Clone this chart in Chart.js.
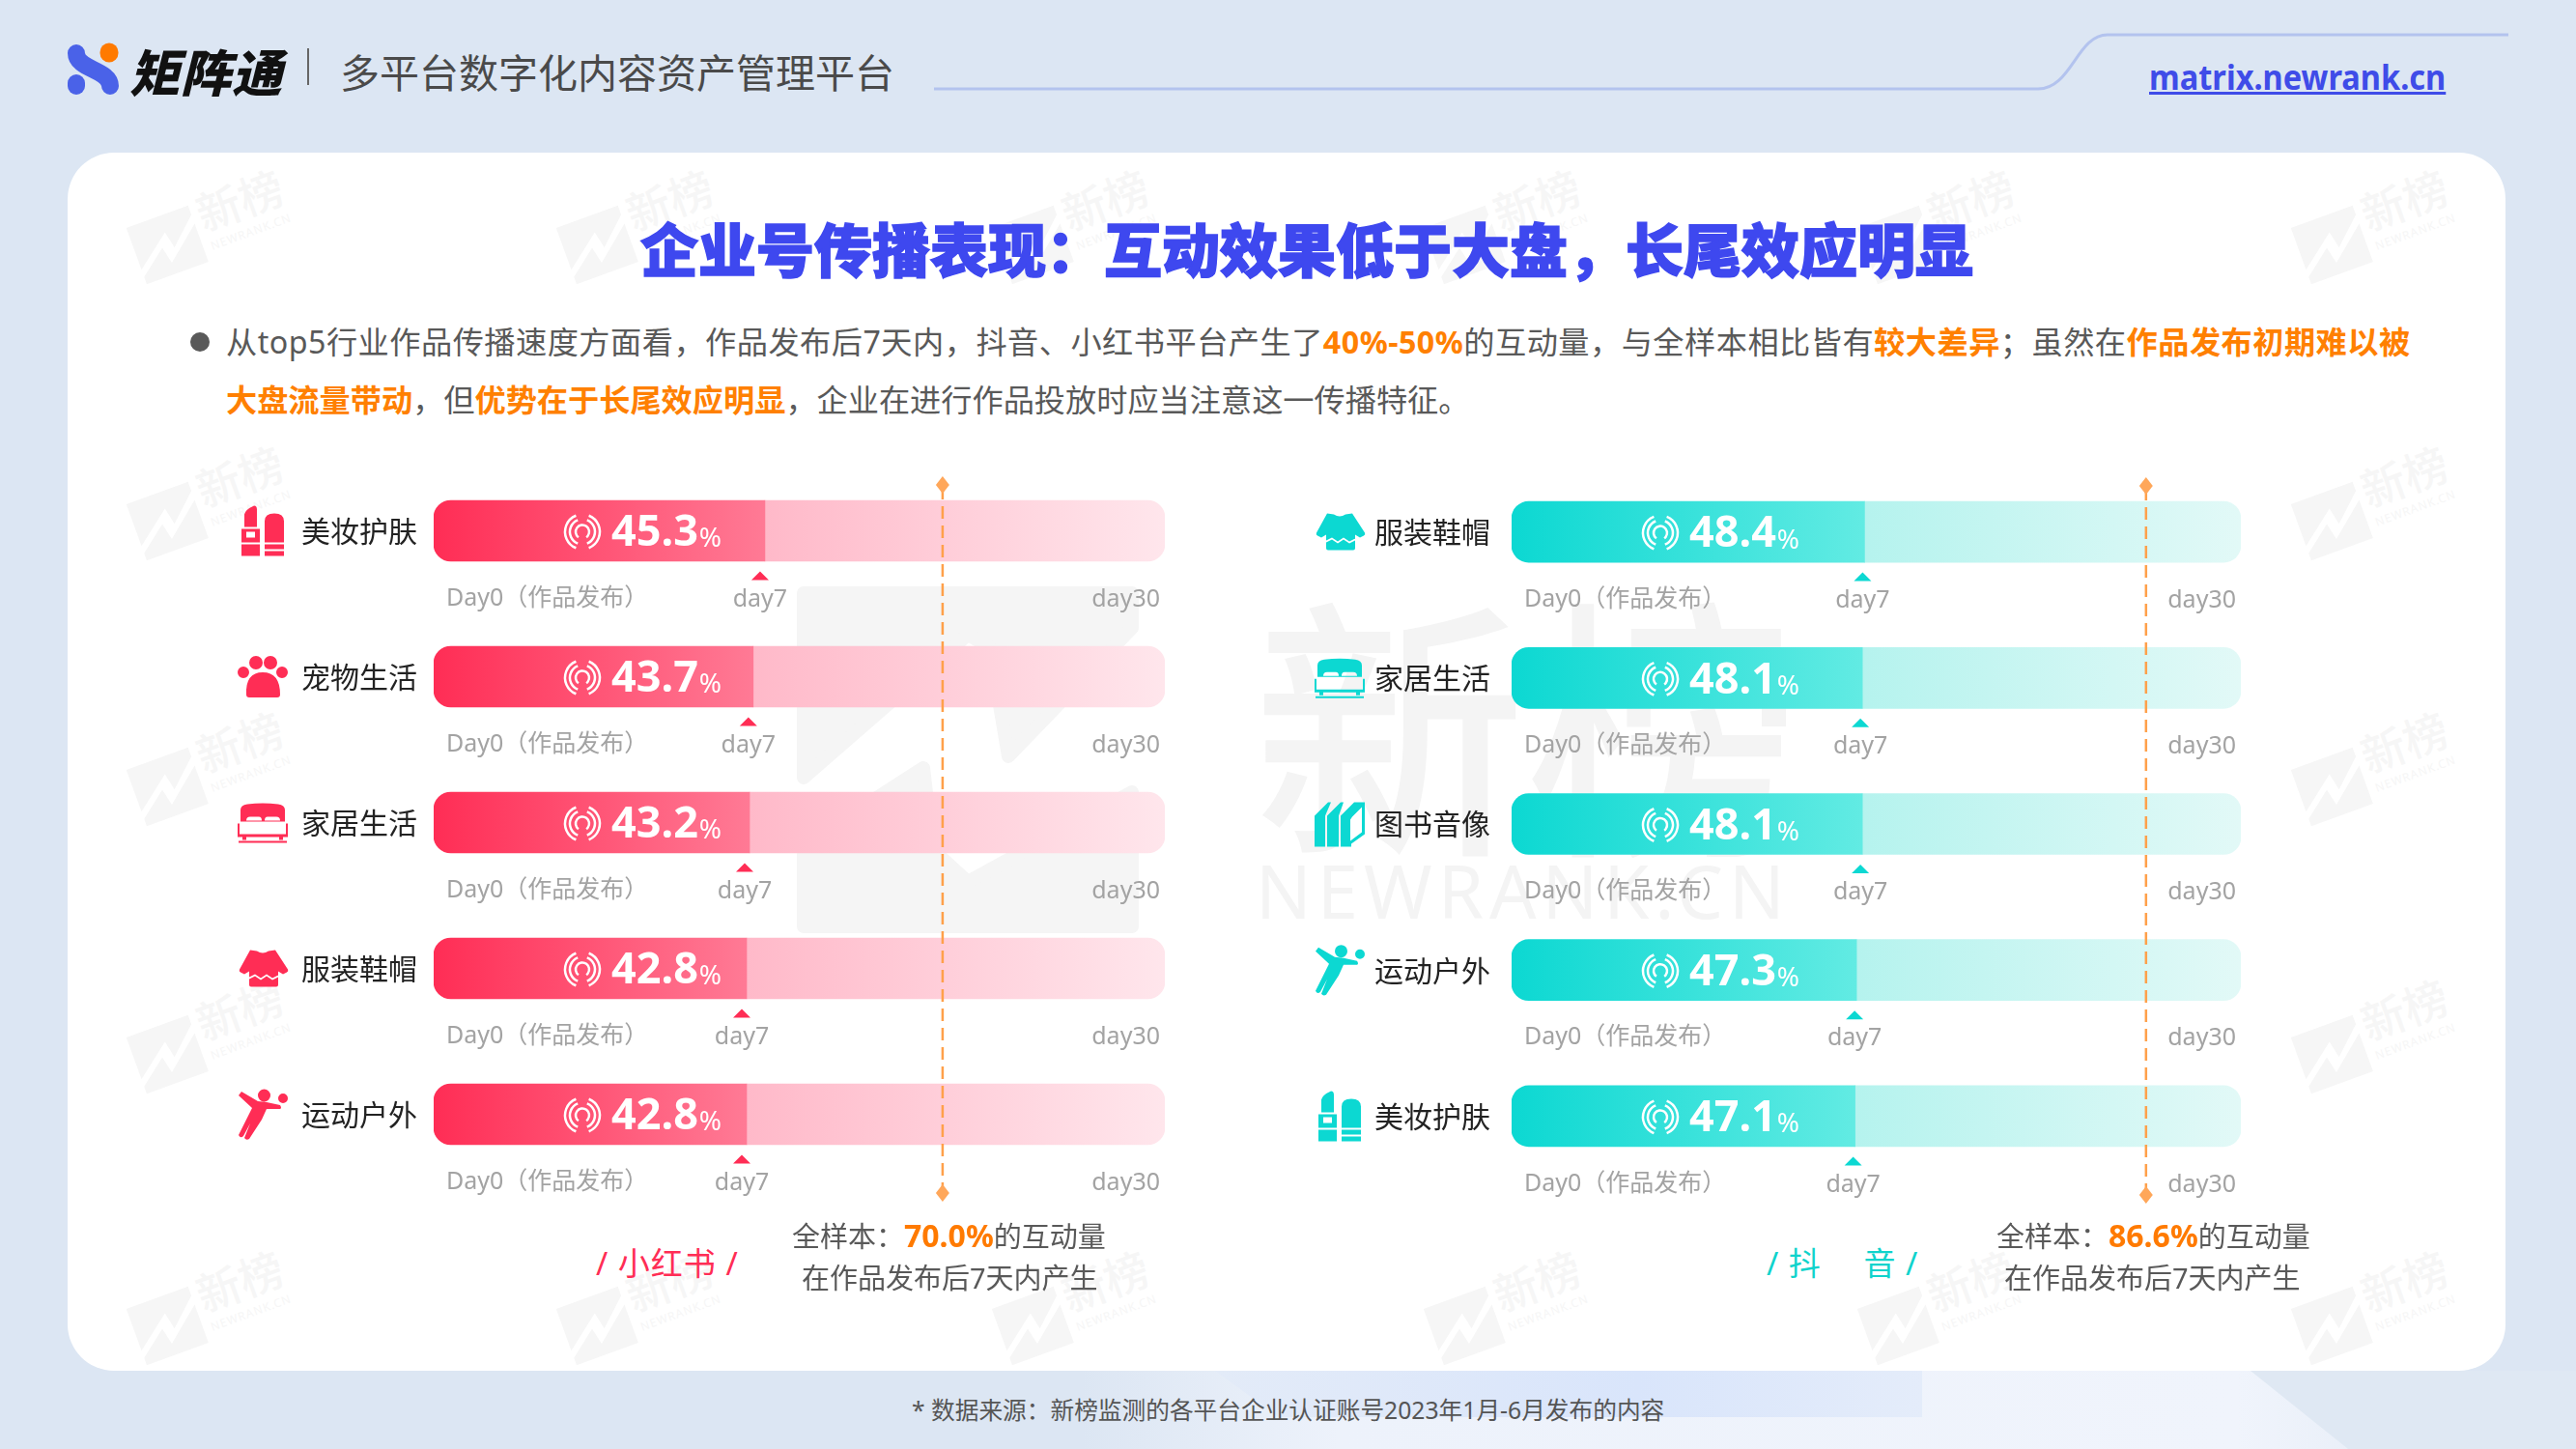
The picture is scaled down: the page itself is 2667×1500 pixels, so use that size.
<!DOCTYPE html>
<html lang="zh-CN">
<head>
<meta charset="utf-8">
<title>企业号传播表现</title>
<script src="https://cdn.jsdelivr.net/npm/chart.js@4"></script>
<style>
  * { margin: 0; padding: 0; box-sizing: border-box; }
  html, body { width: 2667px; height: 1500px; overflow: hidden; background: #dce6f3; }
  body { position: relative; font-family: "Noto Sans", "Noto Sans CJK SC", sans-serif; color: #595959; }
  .abs { position: absolute; white-space: nowrap; }
  .hi { color: #ff8000; font-weight: 700; }
  .card { position: absolute; left: 70px; top: 158px; width: 2524px; height: 1261px; background: #fff; border-radius: 48px; }
  canvas { position: absolute; }
</style>
</head>
<body>
<!-- 背景の薄い光 -->
<div class="abs" style="left:1120px;top:1419px;width:1330px;height:81px;background:linear-gradient(90deg,#dce6f3,#edf2fb 20%,#f0f4fc 90%,#e9eff8)"></div>
<div class="abs" style="left:1258px;top:1419px;width:732px;height:48px;background:linear-gradient(90deg,#e3ebf8,#d9e5fb 60%,#e4ecfa);clip-path:polygon(0 0,100% 0,100% 100%,9% 100%)"></div>
<div class="abs" style="left:2330px;top:1419px;width:337px;height:81px;background:#dfe8f3;clip-path:polygon(0 0,100% 0,100% 100%,30% 100%)"></div>

<!-- ヘッダー -->
<svg class="abs" style="left:66px;top:40px" width="62" height="62" viewBox="0 0 62 62">
  <path d="M13 15 C13 32 48 32 48 49" stroke="#4a62e8" stroke-width="18" stroke-linecap="round" fill="none"/>
  <path d="M13 46 V49" stroke="#4a62e8" stroke-width="18" stroke-linecap="round" fill="none"/>
  <path d="M47 14 V15" stroke="#ff7a00" stroke-width="19" stroke-linecap="round" fill="none"/>
</svg>
<div class="abs" style="left:134px;top:38px;font:italic 900 52px 'Noto Sans CJK SC';color:#111;letter-spacing:1px;line-height:70px">矩阵通</div>
<div class="abs" style="left:318px;top:50px;width:2px;height:38px;background:#666"></div>
<div class="abs" style="left:352px;top:44px;font:400 41px/58px 'Noto Sans CJK SC';color:#4a4a4a">多平台数字化内容资产管理平台</div>
<svg class="abs" style="left:960px;top:25px" width="1650" height="80" viewBox="0 0 1650 80">
  <path d="M7 67 H1150 C1185 67 1190 11 1222 11 H1637" stroke="#b3c3ee" stroke-width="3" fill="none"/>
</svg>
<div class="abs" style="left:2225px;top:56px;font:700 35px/48px 'Noto Sans';color:#3f4ce8;text-decoration:underline;transform:scaleX(.93);transform-origin:left">matrix.newrank.cn</div>

<div class="card"></div>
<div id="watermarks"></div>

<!-- 中央の大きな透かし -->
<svg class="abs" style="left:0;top:0" width="2667" height="1500" viewBox="0 0 2667 1500">
  <path d="M832 614H1172V650L1044 783L1025 670L1002 657L832 805Z M956 795L966 880L1002 913L1172 820V959H832V875Z" fill="#f5f5f5" stroke="#f5f5f5" stroke-width="14" stroke-linejoin="round"/>
</svg>
<div class="abs" style="left:1297px;top:556px;font:500 283px/370px 'Noto Sans CJK SC';color:#f4f4f4">新榜</div>
<div class="abs" style="left:1300px;top:870px;font:400 76px/104px 'Noto Sans';color:#f4f4f4;letter-spacing:6px">NEWRANK.CN</div>

<!-- タイトルと説明文 -->
<div class="abs" style="left:663px;top:213px;font:900 60px/86px 'Noto Sans CJK SC';color:#3e48ef;-webkit-text-stroke:1.5px #3e48ef">企业号传播表现：互动效果低于大盘，长尾效应明显</div>
<div class="abs" style="left:197px;top:344px;width:20px;height:20px;border-radius:50%;background:#595959"></div>
<div class="abs" style="left:234px;top:331px;font-size:32.2px;line-height:46px;letter-spacing:.49px">从top5行业作品传播速度方面看，作品发布后7天内，抖音、小红书平台产生了<span class="hi">40%-50%</span>的互动量，与全样本相比皆有<span class="hi">较大差异</span>；虽然在<span class="hi">作品发布初期难以被</span></div>
<div class="abs" style="left:234px;top:391px;font-size:32.2px;line-height:46px"><span class="hi">大盘流量带动</span>，但<span class="hi">优势在于长尾效应明显</span>，企业在进行作品投放时应当注意这一传播特征。</div>

<canvas id="xhsChart" width="1140" height="800" style="left:100px;top:460px"></canvas>
<canvas id="dyChart" width="1140" height="800" style="left:1240px;top:460px"></canvas>

<!-- 下部の注記 -->
<div class="abs" style="left:617px;top:1285px;font-size:33px;line-height:46px;letter-spacing:1px;color:#ff2d55">/ 小红书 /</div>
<div class="abs" style="left:1829px;top:1285px;font-size:33px;line-height:46px;letter-spacing:1px;color:#0fd3cc">/ 抖&emsp;&nbsp;音 /</div>
<div class="abs" style="left:820px;top:1258px;font-size:29px;line-height:42px">全样本：<span style="color:#ff7a00;font-weight:700;font-size:32px">70.0%</span>的互动量</div>
<div class="abs" style="left:830px;top:1302px;font-size:29px;line-height:42px">在作品发布后7天内产生</div>
<div class="abs" style="left:2067px;top:1258px;font-size:29px;line-height:42px">全样本：<span style="color:#ff7a00;font-weight:700;font-size:32px">86.6%</span>的互动量</div>
<div class="abs" style="left:2075px;top:1302px;font-size:29px;line-height:42px">在作品发布后7天内产生</div>
<div class="abs" style="left:944px;top:1442px;font-size:24.7px;line-height:36px;color:#555">* 数据来源：新榜监测的各平台企业认证账号2023年1月-6月发布的内容</div>

<script>
// --- データ ---
const xhsCategories = ['美妆护肤', '宠物生活', '家居生活', '服装鞋帽', '运动户外'];
const xhsDay7Share = [45.3, 43.7, 43.2, 42.8, 42.8];
const xhsBenchmark = 70.0;

const dyCategories = ['服装鞋帽', '家居生活', '图书音像', '运动户外', '美妆护肤'];
const dyDay7Share = [48.4, 48.1, 48.1, 47.3, 47.1];
const dyBenchmark = 86.6;

const dayLabels = ['Day0（作品发布）', 'day7', 'day30'];

// --- アイコン (SVGパス) ---
const iconPaths = {
    '美妆护肤': { w: 46, h: 52, d: 'M4 22V9Q5 4 14 0Q17 0 17 4V22Z M1 24H20V52H1Z M6 27V33H15V27Z M1 38V40H20V38Z M25 38V16Q25 8 35 8Q45 8 45 16V38Z M25 40H45V45H25Z M25 47H45V52H25Z' },
    '宠物生活': { w: 52, h: 43, d: 'M0 17a6 6 0 1 0 12 0a6 6 0 1 0 -12 0Z M12 7a7 7 0 1 0 14 0a7 7 0 1 0 -14 0Z M27 7a7 7 0 1 0 14 0a7 7 0 1 0 -14 0Z M40 17a6 6 0 1 0 12 0a6 6 0 1 0 -12 0Z M9 40Q8 17 26 17Q44 17 44 40Q44 43 41 43H12Q9 43 9 40Z' },
    '家居生活': { w: 52, h: 42, d: 'M3 20V8Q3 3 10 2Q26 0 42 2Q49 3 49 8V20Z M9 19Q9 15 13 15H22Q25 15 25 19Z M28 19Q28 15 31 15H40Q44 15 44 19Z M0 22H2V33H50V22H52V36H0Z M5 36H9V39H5Z M43 36H47V39H43Z M1 40H51V42H1Z' },
    '服装鞋帽': { w: 52, h: 38, d: 'M13 0L20 1Q26 5 32 1L39 0L52 20Q53 22 51 23L47 25L42 22V36Q42 38 40 38H14Q12 38 12 36V22L7 25L3 23Q1 22 2 20Z M12 28L18 25L24 29L30 25L36 29L42 26V28L36 31L30 27L24 31L18 27L12 30Z' },
    '运动户外': { w: 52, h: 53, d: 'M21 7a6.5 6.5 0 1 0 13 0a6.5 6.5 0 1 0 -13 0Z M42 10a5 5 0 1 0 10 0a5 5 0 1 0 -10 0Z M1 7L4 3L21 13L30 14L44 17Q46 20 44 21L30 21L25 32L12 52Q9 54 7 51L13 36L6 49Q3 52 1 48L15 20Z' },
    '图书音像': { w: 52, h: 47, d: 'M0 47V15L14 1H17L11 15V47Z M13 47V15L27 1H30L25 15V47Z M27 47V15L41 1H52V34L38 44V47Z M39 16L49 6V32L37 41V19Z' }
};

// --- 行ごとの注釈を描くプラグイン ---
function rowNotesPlugin(values, benchmark, look) {
    return {
        id: 'rowNotes',
        afterDatasetsDraw(chart) {
            const ctx = chart.ctx;
            const xs = chart.scales.x;
            const ys = chart.scales.y;
            const x0 = xs.getPixelForValue(0);
            const x100 = xs.getPixelForValue(100);

            ctx.save();
            ctx.textBaseline = 'middle';
            values.forEach((v, i) => {
                const cy = ys.getPixelForValue(i);
                const endX = xs.getPixelForValue(v) + look.tickOffset;

                // アイコン
                const icon = iconPaths[chart.data.labels[i]];
                ctx.save();
                ctx.translate(look.iconX - icon.w / 2, cy - icon.h / 2);
                ctx.fillStyle = look.main;
                ctx.fill(new Path2D(icon.d), 'evenodd');
                ctx.restore();

                // 電波マーク
                const rx = x0 + 154;
                ctx.strokeStyle = '#fff';
                ctx.lineWidth = 2.5;
                ctx.beginPath();
                ctx.arc(rx, cy + 1, 7, Math.PI * 0.7, Math.PI * 0.3);
                ctx.stroke();
                [13, 18].forEach(r => {
                    ctx.beginPath();
                    ctx.arc(rx, cy + 1, r, Math.PI * 0.62, Math.PI * 1.38);
                    ctx.stroke();
                    ctx.beginPath();
                    ctx.arc(rx, cy + 1, r, -Math.PI * 0.38, Math.PI * 0.38);
                    ctx.stroke();
                });

                // 値
                ctx.fillStyle = '#fff';
                ctx.textAlign = 'left';
                ctx.font = '700 45px "Noto Sans"';
                const txt = v.toFixed(1);
                ctx.fillText(txt, x0 + 184, cy + 3);
                const w = ctx.measureText(txt).width;
                ctx.font = '400 28px "Noto Sans"';
                ctx.fillText('%', x0 + 184 + w + 1, cy + 9);

                // day7 の三角
                ctx.fillStyle = look.main;
                ctx.beginPath();
                ctx.moveTo(endX, cy + 42);
                ctx.lineTo(endX + 9, cy + 51);
                ctx.lineTo(endX - 9, cy + 51);
                ctx.closePath();
                ctx.fill();

                // 目盛りラベル
                ctx.fillStyle = '#a3a3a3';
                ctx.font = '400 25px "Noto Sans", "Noto Sans CJK SC"';
                ctx.textAlign = 'left';
                ctx.fillText(dayLabels[0], x0 + 13, cy + 70);
                ctx.textAlign = 'center';
                ctx.fillText(dayLabels[1], endX, cy + 71);
                ctx.textAlign = 'right';
                ctx.fillText(dayLabels[2], x100 - 5, cy + 71);
            });

            // 全サンプルの基準線
            const bx = xs.getPixelForValue(benchmark) + look.ruleNudge;
            ctx.strokeStyle = '#ffa04a';
            ctx.lineWidth = 2.5;
            ctx.setLineDash([13, 7]);
            ctx.beginPath();
            ctx.moveTo(bx, ys.top + 30);
            ctx.lineTo(bx, ys.bottom + 5);
            ctx.stroke();
            ctx.setLineDash([]);
            ctx.fillStyle = '#ffa75a';
            [ys.top + 28, ys.bottom + 6].forEach(dy => {
                ctx.beginPath();
                ctx.moveTo(bx, dy - 9);
                ctx.lineTo(bx + 7, dy);
                ctx.lineTo(bx, dy + 9);
                ctx.lineTo(bx - 7, dy);
                ctx.closePath();
                ctx.fill();
            });
            ctx.restore();
        }
    };
}

// --- グラフ作成 ---
function buildPanel(canvasId, labels, values, benchmark, look) {
    const rest = values.map(v => +(100 - v).toFixed(1));
    new Chart(document.getElementById(canvasId), {
        type: 'bar',
        data: {
            labels: labels,
            datasets: [
                {
                    data: values,
                    stack: 'share',
                    barThickness: 63,
                    borderSkipped: false,
                    borderRadius: { topLeft: 18, bottomLeft: 18, topRight: 0, bottomRight: 0 },
                    backgroundColor(c) {
                        if (!c.chart.chartArea) return look.strong[0];
                        const xs = c.chart.scales.x;
                        const g = c.chart.ctx.createLinearGradient(xs.getPixelForValue(0), 0, xs.getPixelForValue(values[c.dataIndex]), 0);
                        g.addColorStop(0, look.strong[0]);
                        g.addColorStop(1, look.strong[1]);
                        return g;
                    }
                },
                {
                    data: rest,
                    stack: 'share',
                    barThickness: 63,
                    borderSkipped: false,
                    borderRadius: { topLeft: 0, bottomLeft: 0, topRight: 18, bottomRight: 18 },
                    backgroundColor(c) {
                        if (!c.chart.chartArea) return look.soft[0];
                        const xs = c.chart.scales.x;
                        const g = c.chart.ctx.createLinearGradient(xs.getPixelForValue(values[c.dataIndex]), 0, xs.getPixelForValue(100), 0);
                        g.addColorStop(0, look.soft[0]);
                        g.addColorStop(1, look.soft[1]);
                        return g;
                    }
                }
            ]
        },
        options: {
            indexAxis: 'y',
            responsive: false,
            devicePixelRatio: 1,
            animation: false,
            layout: { padding: look.padding },
            plugins: { legend: { display: false }, tooltip: { enabled: false } },
            scales: {
                x: { display: false, stacked: true, min: 0, max: 100 },
                y: {
                    stacked: true,
                    afterFit(scale) {
                        scale.width = look.axisWidth;
                        // ラベル分の余白を消して行間を揃える
                        scale.paddingTop = 0;
                        scale.paddingBottom = 0;
                    },
                    grid: { display: false },
                    border: { display: false },
                    ticks: {
                        color: '#222',
                        padding: look.labelGap,
                        font: { size: 30, family: '"Noto Sans CJK SC"' }
                    }
                }
            }
        },
        plugins: [rowNotesPlugin(values, benchmark, look)]
    });
}

buildPanel('xhsChart', xhsCategories, xhsDay7Share, xhsBenchmark, {
    main: '#ff2d55',
    strong: ['#ff2d55', '#ff7a95'],
    soft: ['#ffb9c9', '#ffe6ec'],
    padding: { top: 14, bottom: 31, left: 0, right: 34 },
    axisWidth: 349,
    labelGap: 9,
    tickOffset: -5,
    ruleNudge: -3,
    iconX: 172
});

buildPanel('dyChart', dyCategories, dyDay7Share, dyBenchmark, {
    main: '#0cd8d2',
    strong: ['#0cd8d2', '#62ebe3'],
    soft: ['#b5f3ee', '#e2f9f7'],
    padding: { top: 15, bottom: 29, left: 0, right: 60 },
    axisWidth: 325,
    labelGap: 14,
    tickOffset: -2,
    ruleNudge: 3,
    iconX: 147
});

// --- 透かし ---
const wmX = [133, 578, 1029, 1476, 1925, 2374];
const wmHolder = document.getElementById('watermarks');
function addWatermark(x, y) {
    const el = document.createElement('div');
    el.className = 'abs';
    el.style.cssText = `left:${x}px;top:${y - 45}px;width:170px;height:90px;transform:rotate(-20deg);color:#f6f6f6;`;
    el.innerHTML = '<svg class="abs" style="left:0;top:14px" width="72" height="70" viewBox="0 0 72 70"><path d="M2 4H70V14L42 40L38 22L2 50Z M30 36L34 54L70 24V66H2V58Z" fill="#f6f6f6"/></svg>' +
        '<div class="abs" style="left:76px;top:-2px;font:500 46px/62px \'Noto Sans CJK SC\'">新榜</div>' +
        '<div class="abs" style="left:78px;top:58px;font:400 12px/16px \'Noto Sans\';letter-spacing:1px">NEWRANK.CN</div>';
    wmHolder.appendChild(el);
}
wmX.forEach(x => { addWatermark(x, 233); addWatermark(x, 1352); });
[519, 794, 1071].forEach(y => { addWatermark(wmX[0], y); addWatermark(wmX[5], y); });
</script>
</body>
</html>
